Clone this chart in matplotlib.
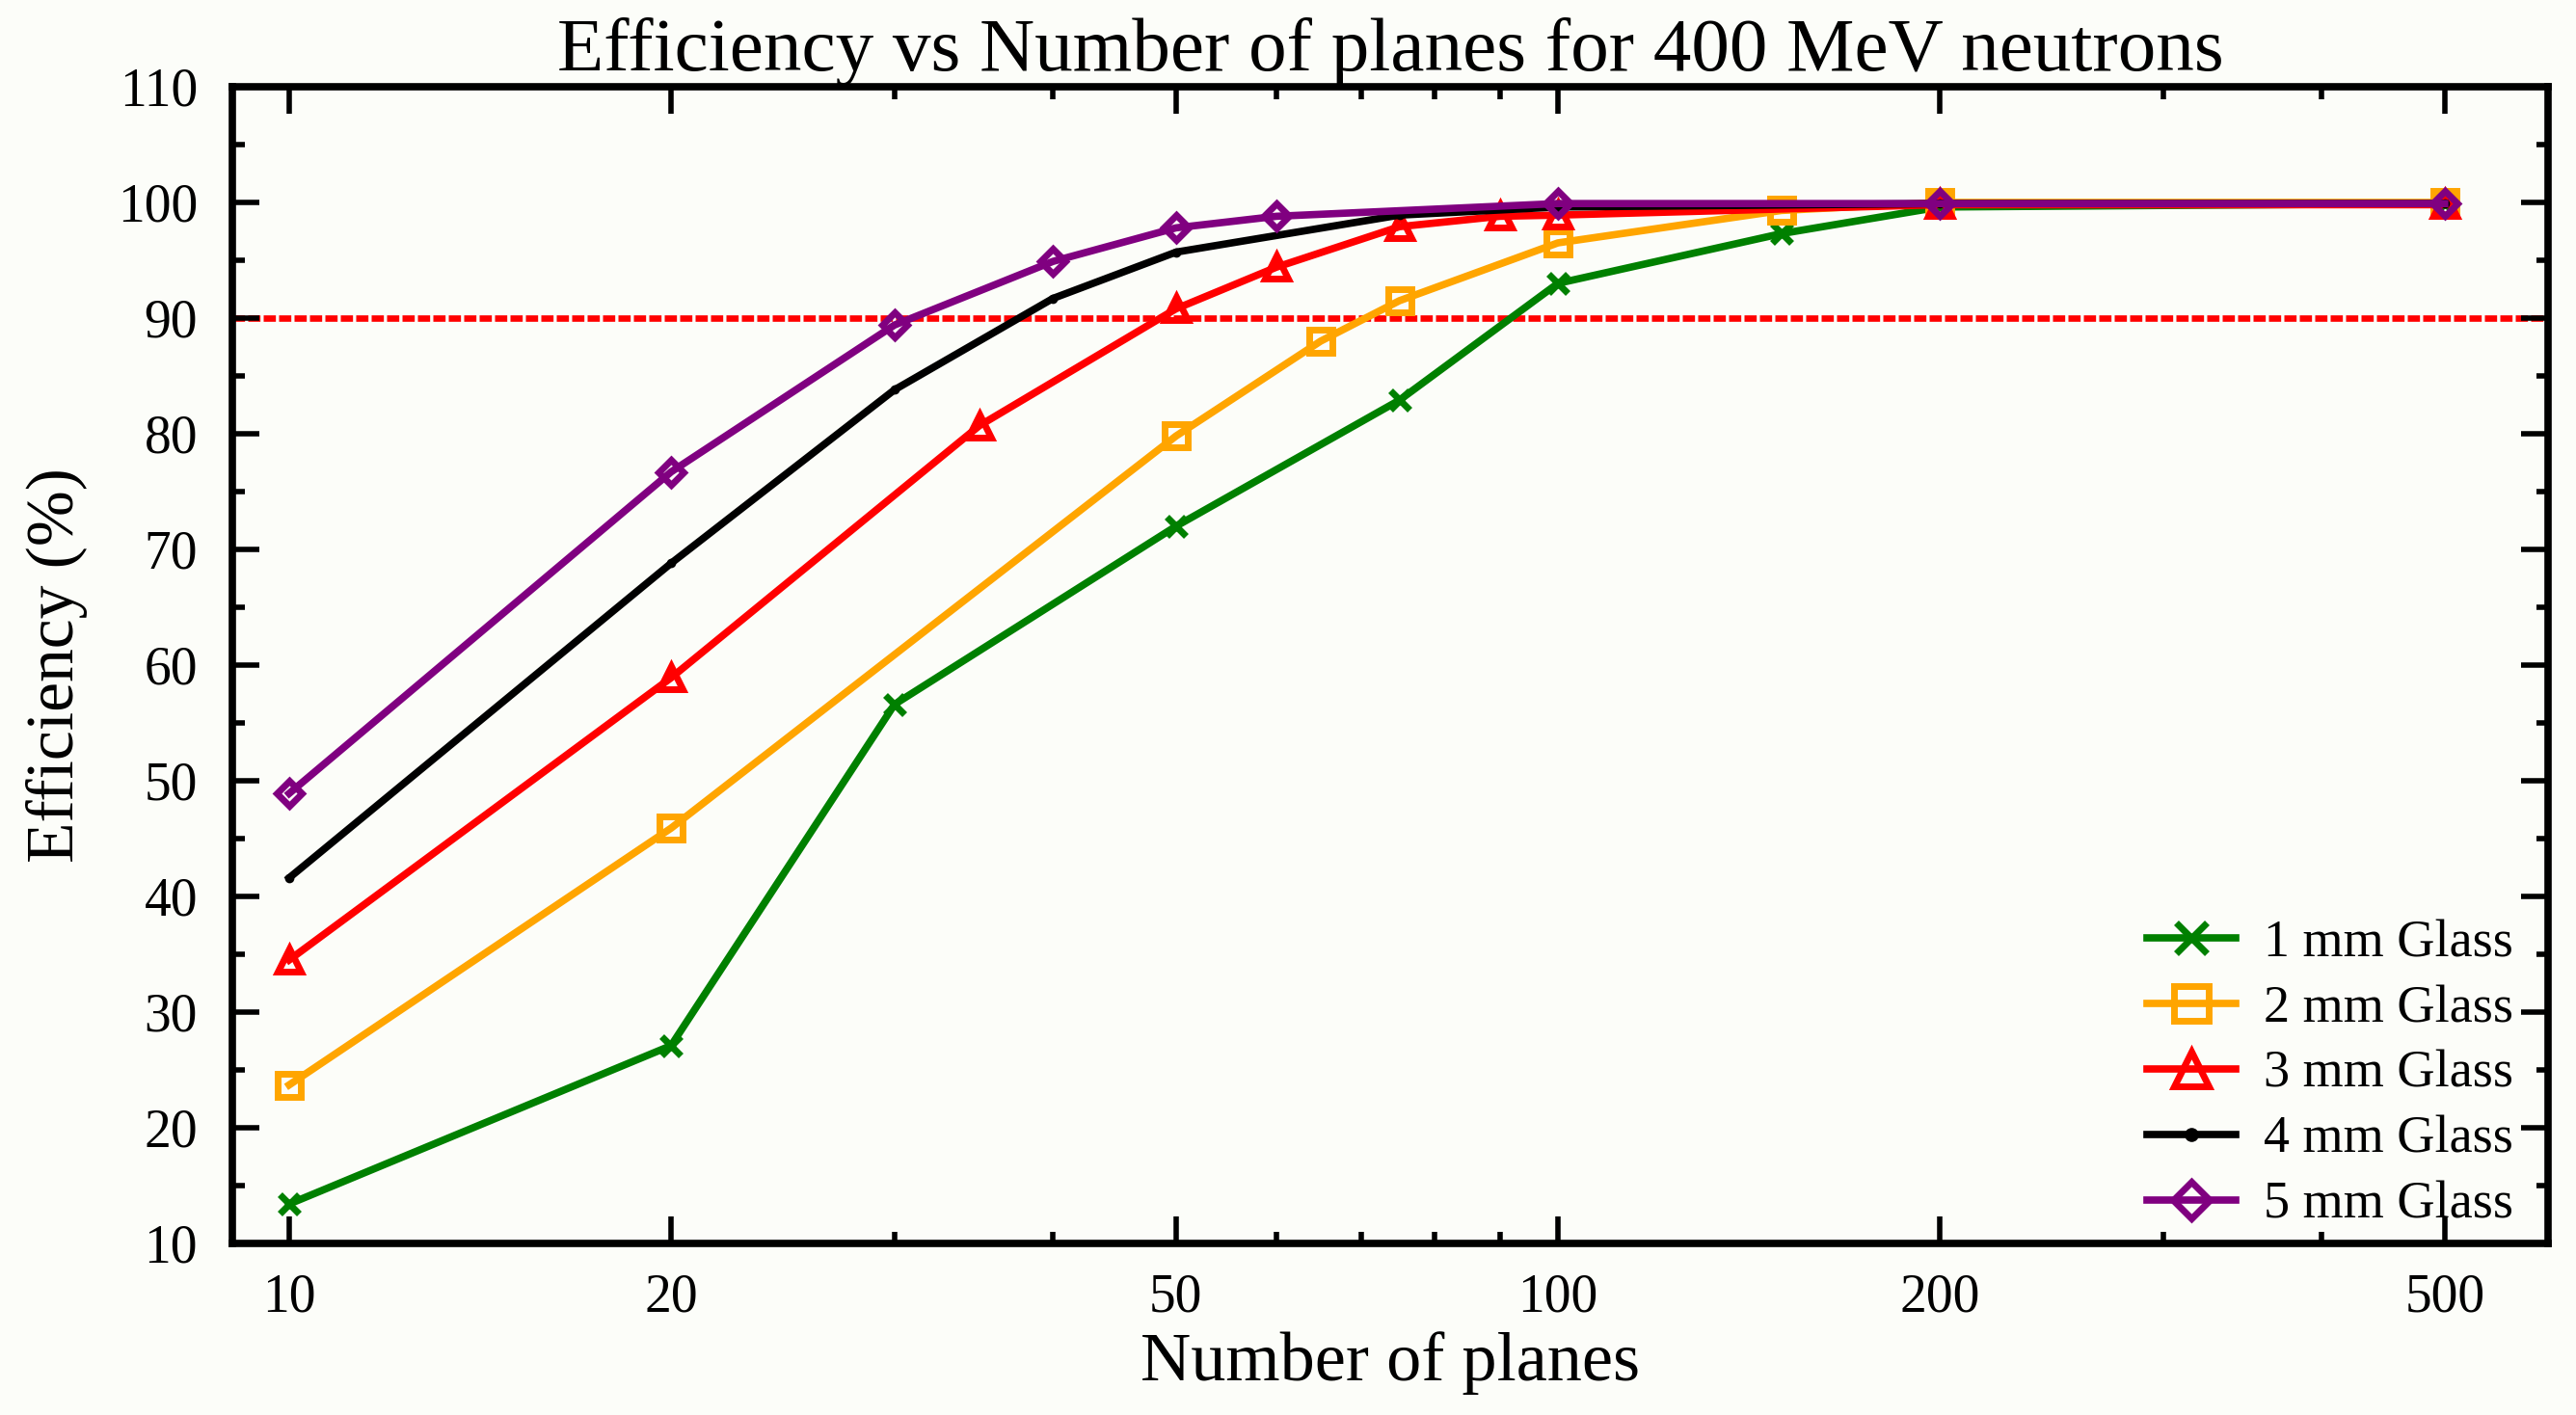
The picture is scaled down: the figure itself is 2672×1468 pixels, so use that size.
import matplotlib
matplotlib.use("Agg")
import matplotlib.pyplot as plt
from matplotlib.ticker import FixedLocator, NullFormatter, MultipleLocator

# Efficiency (%) versus number of detector planes, per glass thickness
planes_1mm = [10, 20, 30, 50, 75, 100, 150, 200, 500]
eff_1mm = [13.4, 27.1, 56.6, 72.0, 82.9, 93.0, 97.3, 99.6, 99.9]

planes_2mm = [10, 20, 50, 65, 75, 100, 150, 200, 500]
eff_2mm = [23.7, 45.9, 79.8, 88.0, 91.5, 96.5, 99.3, 100.0, 100.0]

planes_3mm = [10, 20, 35, 50, 60, 75, 90, 100, 200, 500]
eff_3mm = [34.5, 58.9, 80.7, 90.8, 94.4, 97.9, 98.8, 98.9, 99.8, 99.8]

planes_4mm = [10, 20, 30, 40, 50, 75, 100, 200, 500]
eff_4mm = [41.6, 68.8, 83.8, 91.7, 95.7, 98.9, 99.6, 99.9, 99.9]

planes_5mm = [10, 20, 30, 40, 50, 60, 100, 200, 500]
eff_5mm = [48.9, 76.7, 89.4, 94.9, 97.8, 98.8, 99.9, 99.9, 99.9]

labels = ["1 mm Glass", "2 mm Glass", "3 mm Glass", "4 mm Glass", "5 mm Glass"]
threshold = 90

x_major = [10, 20, 50, 100, 200, 500]
x_minor = [30, 40, 60, 70, 80, 90, 300, 400]
y_ticks = list(range(10, 111, 10))

plt.rcParams["font.family"] = ["Liberation Serif", "DejaVu Serif"]

bg = "#FCFDF9"
fig = plt.figure(figsize=(26.72, 14.68), dpi=100, facecolor=bg)
ax = fig.add_axes([0.0902, 0.1213, 0.8989, 0.8174], facecolor=bg)

ax.axhline(threshold, color="#FF0000", lw=4.8, ls=(0, (1.9, 0.5)), zorder=1)

lw = 5.5
mew = 5
common = dict(lw=lw, markerfacecolor="none", mew=mew, zorder=3)
ax.plot(planes_1mm, eff_1mm, color="#008000", marker="x", ms=15,
        label=labels[0], **common)
ax.plot(planes_2mm, eff_2mm, color="#FFA500", marker="s", ms=17,
        label=labels[1], **common)
ax.plot(planes_3mm, eff_3mm, color="#FF0000", marker="^", ms=17,
        label=labels[2], **common)
ax.plot(planes_4mm, eff_4mm, color="black", marker="o", ms=7, mew=0,
        label=labels[3], lw=lw, markerfacecolor="black", zorder=3)
ax.plot(planes_5mm, eff_5mm, color="#800080", marker="D", ms=13,
        label=labels[4], **common)

ax.set_xscale("log")
ax.set_xlim(9.02, 603)
ax.set_ylim(10, 110)

ax.xaxis.set_major_locator(FixedLocator(x_major))
ax.xaxis.set_minor_locator(FixedLocator(x_minor))
ax.xaxis.set_minor_formatter(NullFormatter())
ax.set_xticklabels([str(v) for v in x_major])
ax.yaxis.set_major_locator(FixedLocator(y_ticks))
ax.yaxis.set_minor_locator(MultipleLocator(5))

for s in ax.spines.values():
    s.set_linewidth(5.5)
ax.tick_params(which="both", direction="in", top=True, right=True, width=4)
ax.tick_params(which="major", length=20)
ax.tick_params(which="minor", length=9)
ax.tick_params(axis="x", which="major", labelsize=40, pad=22)
ax.tick_params(axis="y", which="major", labelsize=40, pad=26)

ax.set_xlabel("Number of planes", fontsize=52, labelpad=6)
ax.set_ylabel("Efficiency (%)", fontsize=50, labelpad=22)
ax.set_title("Efficiency vs Number of planes for 400 MeV neutrons",
             fontsize=57, pad=2)

leg = ax.legend(loc="lower right", bbox_to_anchor=(0.985, 0.012),
                frameon=False, fontsize=39, numpoints=1, markerscale=1.5,
                handlelength=1.7, handletextpad=0.53, labelspacing=0.32,
                borderpad=0, borderaxespad=0)

fig.savefig("out.png", dpi=100, facecolor=bg)
